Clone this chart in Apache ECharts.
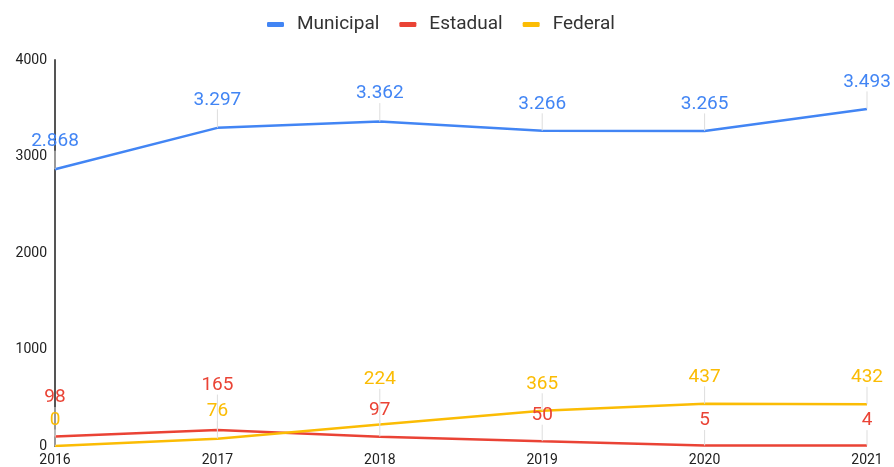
<!DOCTYPE html>
<html>
<head>
<meta charset="utf-8">
<script src="https://cdn.jsdelivr.net/npm/echarts@6/dist/echarts.min.js"></script>
<style>
html, body { margin: 0; padding: 0; background: #fff; }
#chart { width: 894px; height: 467px; }
</style>
</head>
<body>
<div id="chart"></div>
<script>
var years = ['2016', '2017', '2018', '2019', '2020', '2021'];
var municipal = [2868, 3297, 3362, 3266, 3265, 3493];
var estadual = [98, 165, 97, 50, 5, 4];
var federal = [0, 76, 224, 365, 437, 432];

// how far each value label sits above its point (px)
var muniLift = [28, 28, 28, 27, 27, 27];
var estLift = [39, 45, 26, 26, 25, 25];
var fedLift = [26, 27, 45, 27, 27, 27];

function fmt(v) {
	// 3297 -> 3.297
	return String(v).replace(/\B(?=(\d{3})+(?!\d))/g, '.');
}

function makeSeries(name, values, color, lift) {
	return {
		name: name,
		type: 'line',
		data: values,
		symbol: 'circle',
		symbolSize: 0.1,
		showSymbol: true,
		lineStyle: { color: color, width: 2.5 },
		itemStyle: { color: color },
		label: {
			show: true,
			position: 'inside',
			color: color,
			fontSize: 19,
			fontFamily: 'Roboto',
			formatter: function (p) { return fmt(p.value); }
		},
		labelLayout: function (p) {
			return { dy: -lift[p.dataIndex] };
		},
		labelLine: {
			show: true,
			lineStyle: { color: '#dddddd', width: 1 }
		}
	};
}

var myChart = echarts.init(document.getElementById('chart'));

var option = {
	animation: false,
	color: ['#4285F4', '#EA4335', '#FBBC04'],
	textStyle: { fontFamily: 'Roboto' },
	legend: {
		top: 10,
		left: 262,
		itemWidth: 17,
		itemHeight: 5,
		itemGap: 20,
		icon: 'roundRect',
		textStyle: { fontSize: 19, color: '#333', fontFamily: 'Roboto', padding: [0, 0, 0, 8] },
		data: ['Municipal', 'Estadual', 'Federal']
	},
	grid: { left: 55, right: 27, top: 60, bottom: 20 },
	xAxis: {
		type: 'category',
		data: years,
		boundaryGap: false,
		axisLine: { show: false },
		axisTick: { show: false },
		axisLabel: { color: '#222', fontSize: 14, margin: 7 },
		splitLine: { show: false }
	},
	yAxis: {
		type: 'value',
		min: 0,
		max: 4000,
		interval: 1000,
		axisLine: { show: true, lineStyle: { color: '#555', width: 2 } },
		axisTick: { show: false },
		axisLabel: { color: '#222', fontSize: 14, margin: 8, formatter: function (v) { return String(v); } },
		splitLine: { show: false }
	},
	series: [
		makeSeries('Municipal', municipal, '#4285F4', muniLift),
		makeSeries('Estadual', estadual, '#EA4335', estLift),
		makeSeries('Federal', federal, '#FBBC04', fedLift)
	]
};

myChart.setOption(option);
</script>
</body>
</html>
